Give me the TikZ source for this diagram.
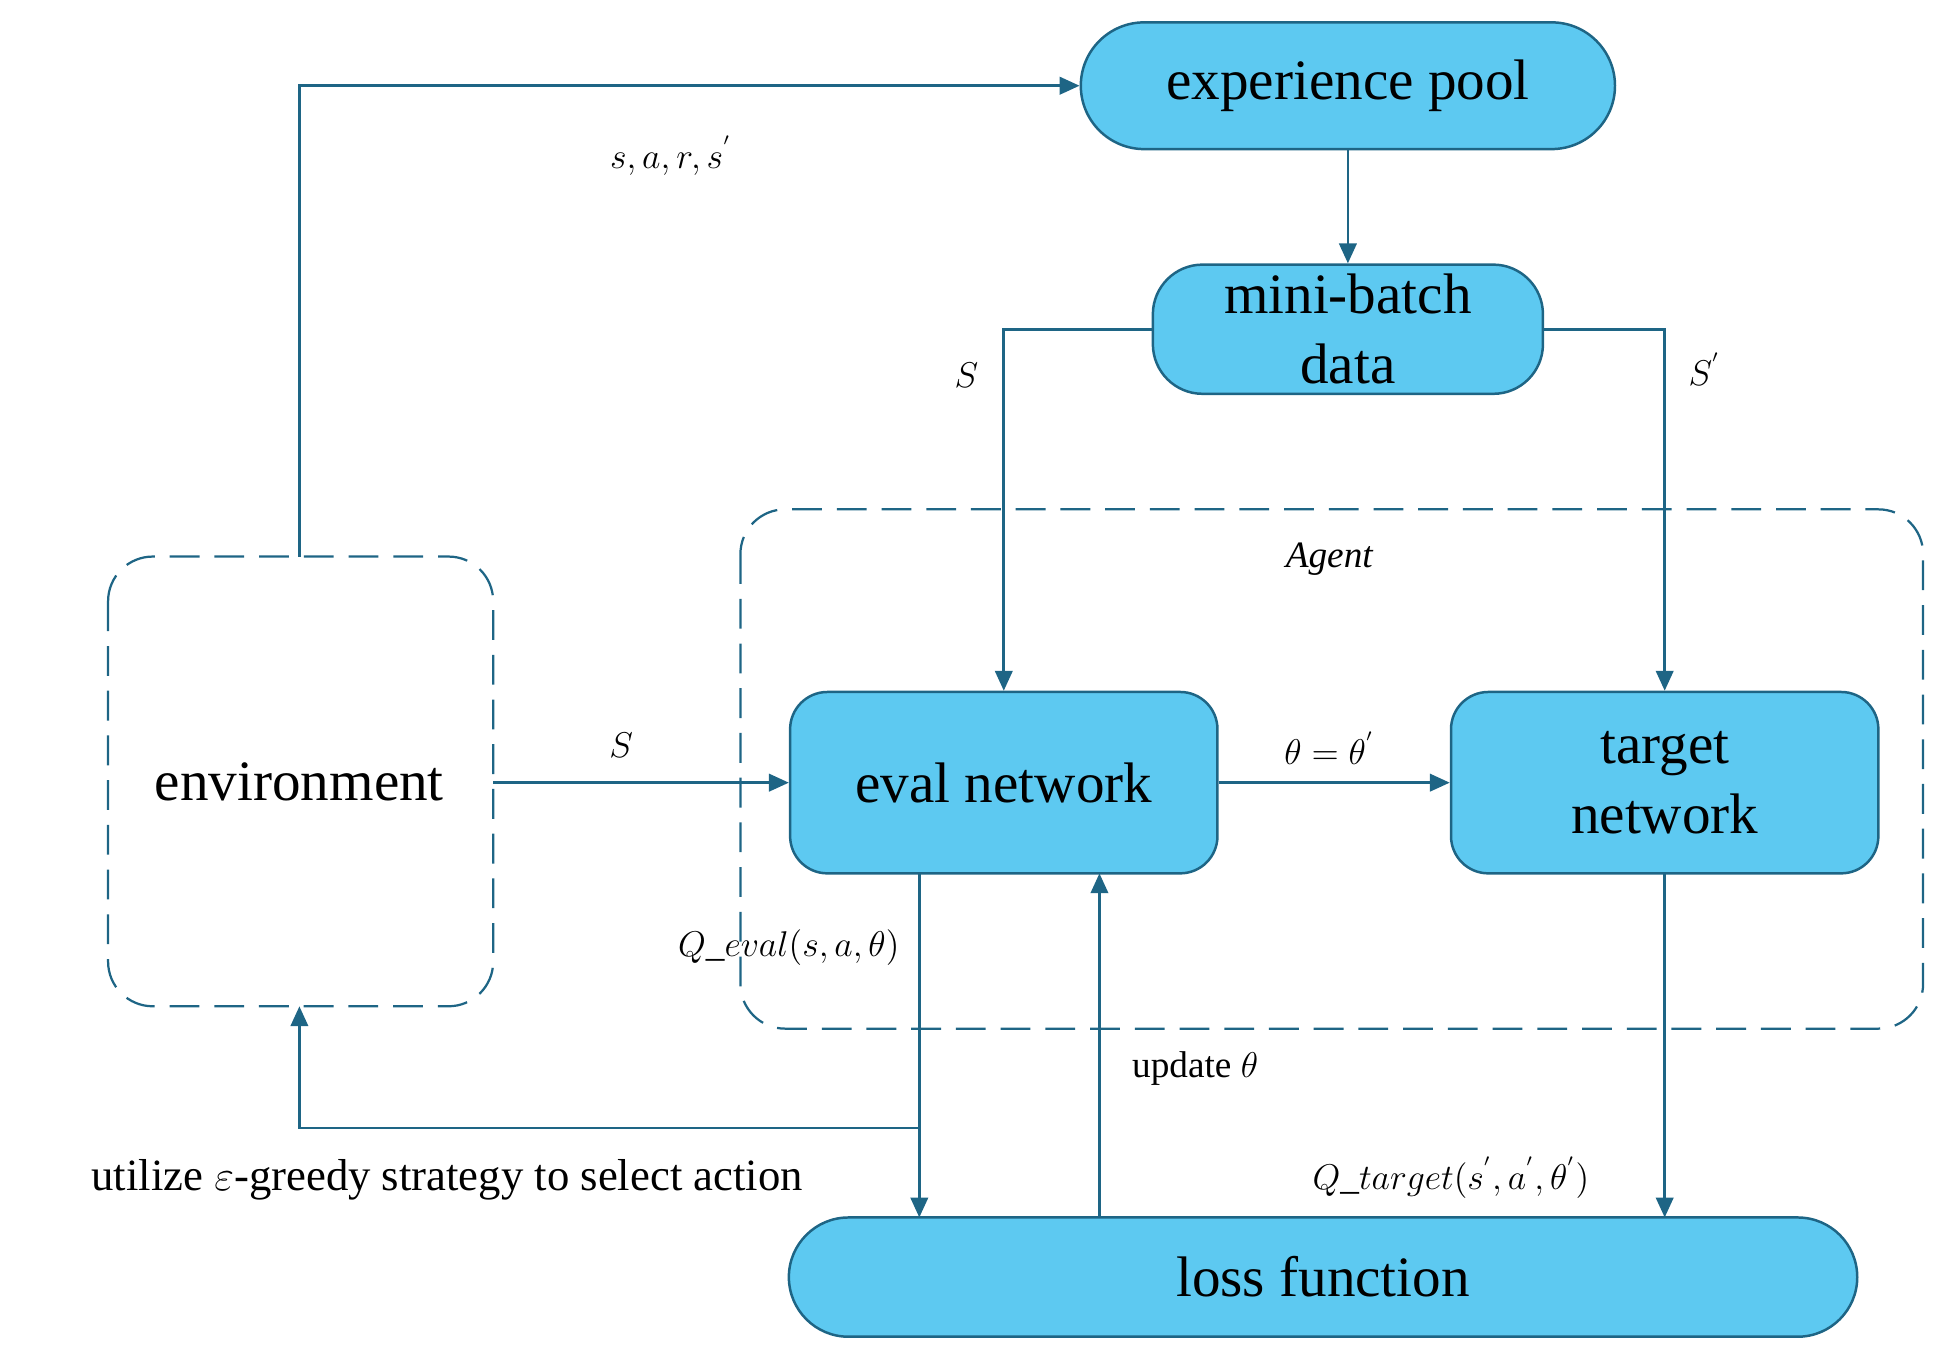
\documentclass[tikz,border=0pt]{standalone}
\usepackage{fontspec}
\setmainfont{Liberation Serif}
\usetikzlibrary{arrows.meta,shapes.misc}
\definecolor{fillc}{HTML}{5DC9F1}
\definecolor{linec}{HTML}{1E6585}
\begin{document}
\begin{tikzpicture}[x=0.5pt,y=-0.5pt,
  box/.style={draw=linec,fill=fillc,line width=1pt,rounded corners=15pt,font=\fontsize{23}{26}\selectfont,align=center,inner sep=0pt},
  pill/.style={draw=linec,fill=fillc,line width=1pt,rounded rectangle,font=\fontsize{23}{26}\selectfont,inner sep=0pt},
  dbox/.style={draw=linec,dashed,dash pattern=on 12pt off 6pt,line width=0.9pt,rounded corners=18pt},
  arr/.style={draw=linec,line width=1.1pt,-{Triangle[length=8pt,width=7pt]}},
  lbl/.style={font=\fontsize{15}{17}\selectfont\itshape}]
\useasboundingbox (0,0) rectangle (1560,1088);
\draw[dbox] (596,410) rectangle (1548,828);
\node[lbl] (agent) at (1070,450) {Agent};
\draw[dbox] (87,448) rectangle (397,810);
\node[font=\fontsize{23}{26}\selectfont] (env) at (241,629) {environment};
\coordinate (envT) at (241,448);
\coordinate (envB) at (241,810);
\coordinate (envR) at (397,630);
\node[pill,minimum width=215pt,minimum height=51pt] (pool) at (1085,69) {experience pool};
\node[box,rounded corners=20pt,minimum width=157pt,minimum height=52pt,font=\fontsize{23}{28}\selectfont] (mb) at (1085,265) {mini-batch\\data};
\node[box,minimum width=172pt,minimum height=73pt] (eval) at (808,630) {eval network};
\node[box,minimum width=172pt,minimum height=73pt,font=\fontsize{23}{28}\selectfont] (tgt) at (1340,630) {target\\network};
\node[pill,minimum width=430pt,minimum height=48pt] (loss) at (1065,1028) {loss function};
\draw[arr] (envT) |- (pool.west);
\node[lbl] at (540,125) {$s,a,r,s^{'}$};
\draw[arr] (pool.south) -- (mb.north);
\draw[arr] (mb.west) -| (eval.north);
\node[lbl] at (778,302) {$S$};
\draw[arr] (mb.east) -| (tgt.north);
\node[lbl] at (1372,297) {$S^{'}$};
\draw[arr] (envR) -- (eval.west);
\node[lbl] at (500,600) {$S$};
\draw[arr] (eval.east) -- (tgt.west);
\node[lbl] at (1070,602) {$\theta=\theta^{'}$};
\coordinate (eb) at (740,703);
\coordinate (lt) at (740,980);
\coordinate (br) at (740,908);
\draw[arr] (eb) -- (lt);
\draw[arr] (br) -| (envB);
\node[lbl] at (635,763) {$Q\_eval(s,a,\theta)$};
\coordinate (lu) at (885,980);
\coordinate (eu) at (885,703);
\draw[arr] (lu) -- (eu);
\node[font=\fontsize{15}{17}\selectfont] at (962,860) {update $\theta$};
\coordinate (tb) at (1340,703);
\coordinate (tl) at (1340,980);
\draw[arr] (tb) -- (tl);
\node[lbl] at (1168,948) {$Q\_target(s^{'},a^{'},\theta^{'})$};
\node[font=\fontsize{18}{20}\selectfont] at (360,950) {utilize $\varepsilon$-greedy strategy to select action};
\end{tikzpicture}
\end{document}
